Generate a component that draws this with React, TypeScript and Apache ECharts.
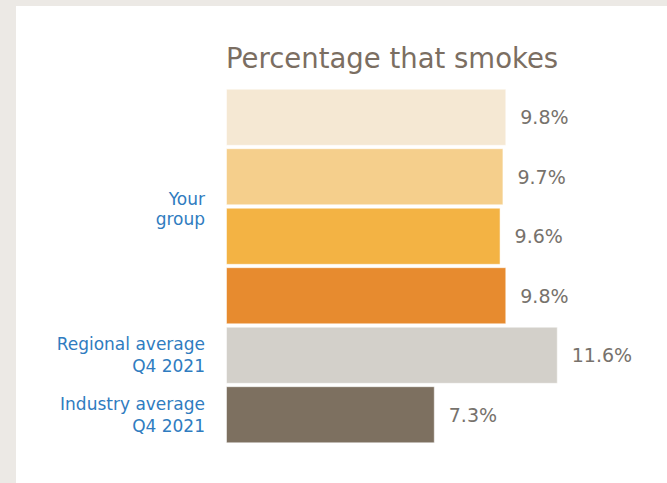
import React, { useEffect, useRef } from "react";
import * as echarts from "echarts";

const titleText = "Percentage that smokes";
const categories = [
  "Your group 1",
  "Your group 2",
  "Your group 3",
  "Your group 4",
  "Regional average\nQ4 2021",
  "Industry average\nQ4 2021",
];
const axisLabels = ["", "", "", "", "Regional average\nQ4 2021", "Industry average\nQ4 2021"];
const groupLabel = "Your\ngroup";
const values = [9.8, 9.7, 9.6, 9.8, 11.6, 7.3];
const barColors = ["#f5e8d3", "#f5cf8c", "#f3b344", "#e78b2f", "#d3d0ca", "#7d7060"];

const FONT = "'DejaVu Sans', 'Liberation Sans', Arial, sans-serif";

export default function App() {
  const ref = useRef<HTMLDivElement>(null);
  useEffect(() => {
    document.body.style.margin = "0";
    if (!ref.current) return;
    const chart = echarts.init(ref.current, null, { renderer: "svg" });
    const option: any = {
      animation: false,
      backgroundColor: "#ece9e5",
      title: {
        text: titleText,
        left: 221,
        top: 39,
        textStyle: { fontFamily: FONT, fontSize: 27.5, fontWeight: "normal", color: "#7b6e62" },
      },
      grid: { left: 226, top: 87.5, width: 14 * 28.6, height: 357 },
      xAxis: {
        type: "value",
        min: 0,
        max: 14,
        show: false,
      },
      yAxis: {
        type: "category",
        inverse: true,
        data: categories,
        axisLine: { show: false },
        axisTick: { show: false },
        axisLabel: {
          margin: 21,
          fontFamily: FONT,
          fontSize: 17,
          lineHeight: 22,
          color: "#2f7cc0",
          formatter: (_v: string, i: number) => axisLabels[i],
        },
      },
      series: [
        {
          type: "bar",
          barCategoryGap: "4%",
          data: values.map((v, i) => ({ value: v, itemStyle: { color: barColors[i] } })),
          itemStyle: { borderColor: "rgba(255,255,255,0.5)", borderWidth: 1 },
          label: {
            show: true,
            position: "right",
            distance: 14,
            fontFamily: FONT,
            fontSize: 19,
            color: "#77726c",
            formatter: (p: any) => p.value.toFixed(1) + "%",
          },
        },
      ],
      graphic: [
        {
          type: "rect",
          z: -10,
          shape: { x: 16, y: 6, width: 651, height: 477 },
          style: { fill: "#ffffff" },
        },
      ],
    };
    chart.setOption(option);
    const y1 = chart.convertToPixel({ yAxisIndex: 0 }, categories[1]) as number;
    const y2 = chart.convertToPixel({ yAxisIndex: 0 }, categories[2]) as number;
    chart.setOption({
      graphic: [
        {
          type: "rect",
          z: -10,
          shape: { x: 16, y: 6, width: 651, height: 477 },
          style: { fill: "#ffffff" },
        },
        {
          type: "text",
          x: 205,
          y: (y1 + y2) / 2 + 2,
          style: {
            text: groupLabel,
            fontFamily: FONT,
            fontSize: 17,
            lineHeight: 20,
            fill: "#2f7cc0",
            align: "right",
            verticalAlign: "middle",
          },
        },
      ],
    });
    return () => chart.dispose();
  }, []);
  return <div ref={ref} style={{ width: 667, height: 483 }} />;
}
